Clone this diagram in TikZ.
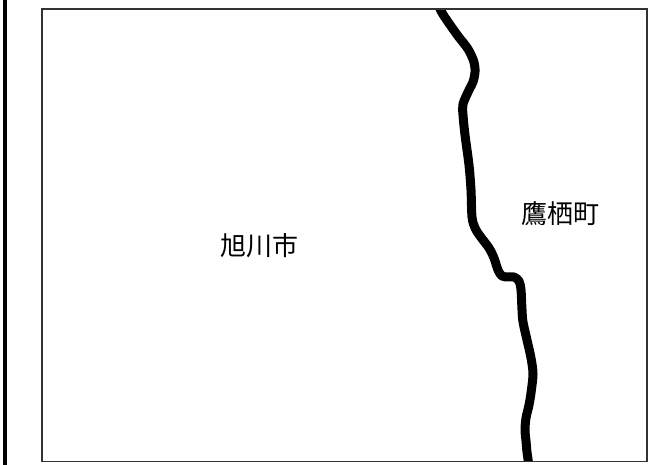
\documentclass[tikz,border=0pt]{standalone}
\usepackage{fontspec}
\newfontfamily\cjk{Noto Sans CJK JP}
\begin{document}
\begin{tikzpicture}[x=1pt,y=-1pt,
  maplabel/.style={font=\cjk\fontsize{26}{26}\selectfont,text=black,inner sep=0pt},
  frame/.style={draw=black!80,line width=1.3pt},
  border/.style={draw=black,line width=9pt,line join=round}]
\useasboundingbox (0,0) rectangle (650,465);
\fill[white] (0,0) rectangle (650,465);
\fill[black] (3,0) rectangle (7,465);
\begin{scope}
\clip (42,9) rectangle (647,461.5);
\draw[border] plot[smooth,tension=0.5] coordinates {
 (438,4) (441,11) (446,19) (458,36) (468,49) (474,62) (475,72) (473,82) (469,90) (463,104) (463,115)
 (465,135) (469,165) (471,190) (472,217) (475,228) (480,236) (489,248) (494,258) (498,270) (502,276)
 (508,277) (514,277) (519,281) (521,290) (522,310) (523,322) (527,340) (531,358) (533,374)
 (531,393) (529,405) (526,418) (525,430) (526,441) (527,452) (529,466)};
\end{scope}
\draw[frame] (42,9) rectangle (647,461.5);
\node[maplabel] (asahikawa) at (259,246) {旭川市};
\node[maplabel] (takasu) at (560,214) {鷹栖町};
\end{tikzpicture}
\end{document}
